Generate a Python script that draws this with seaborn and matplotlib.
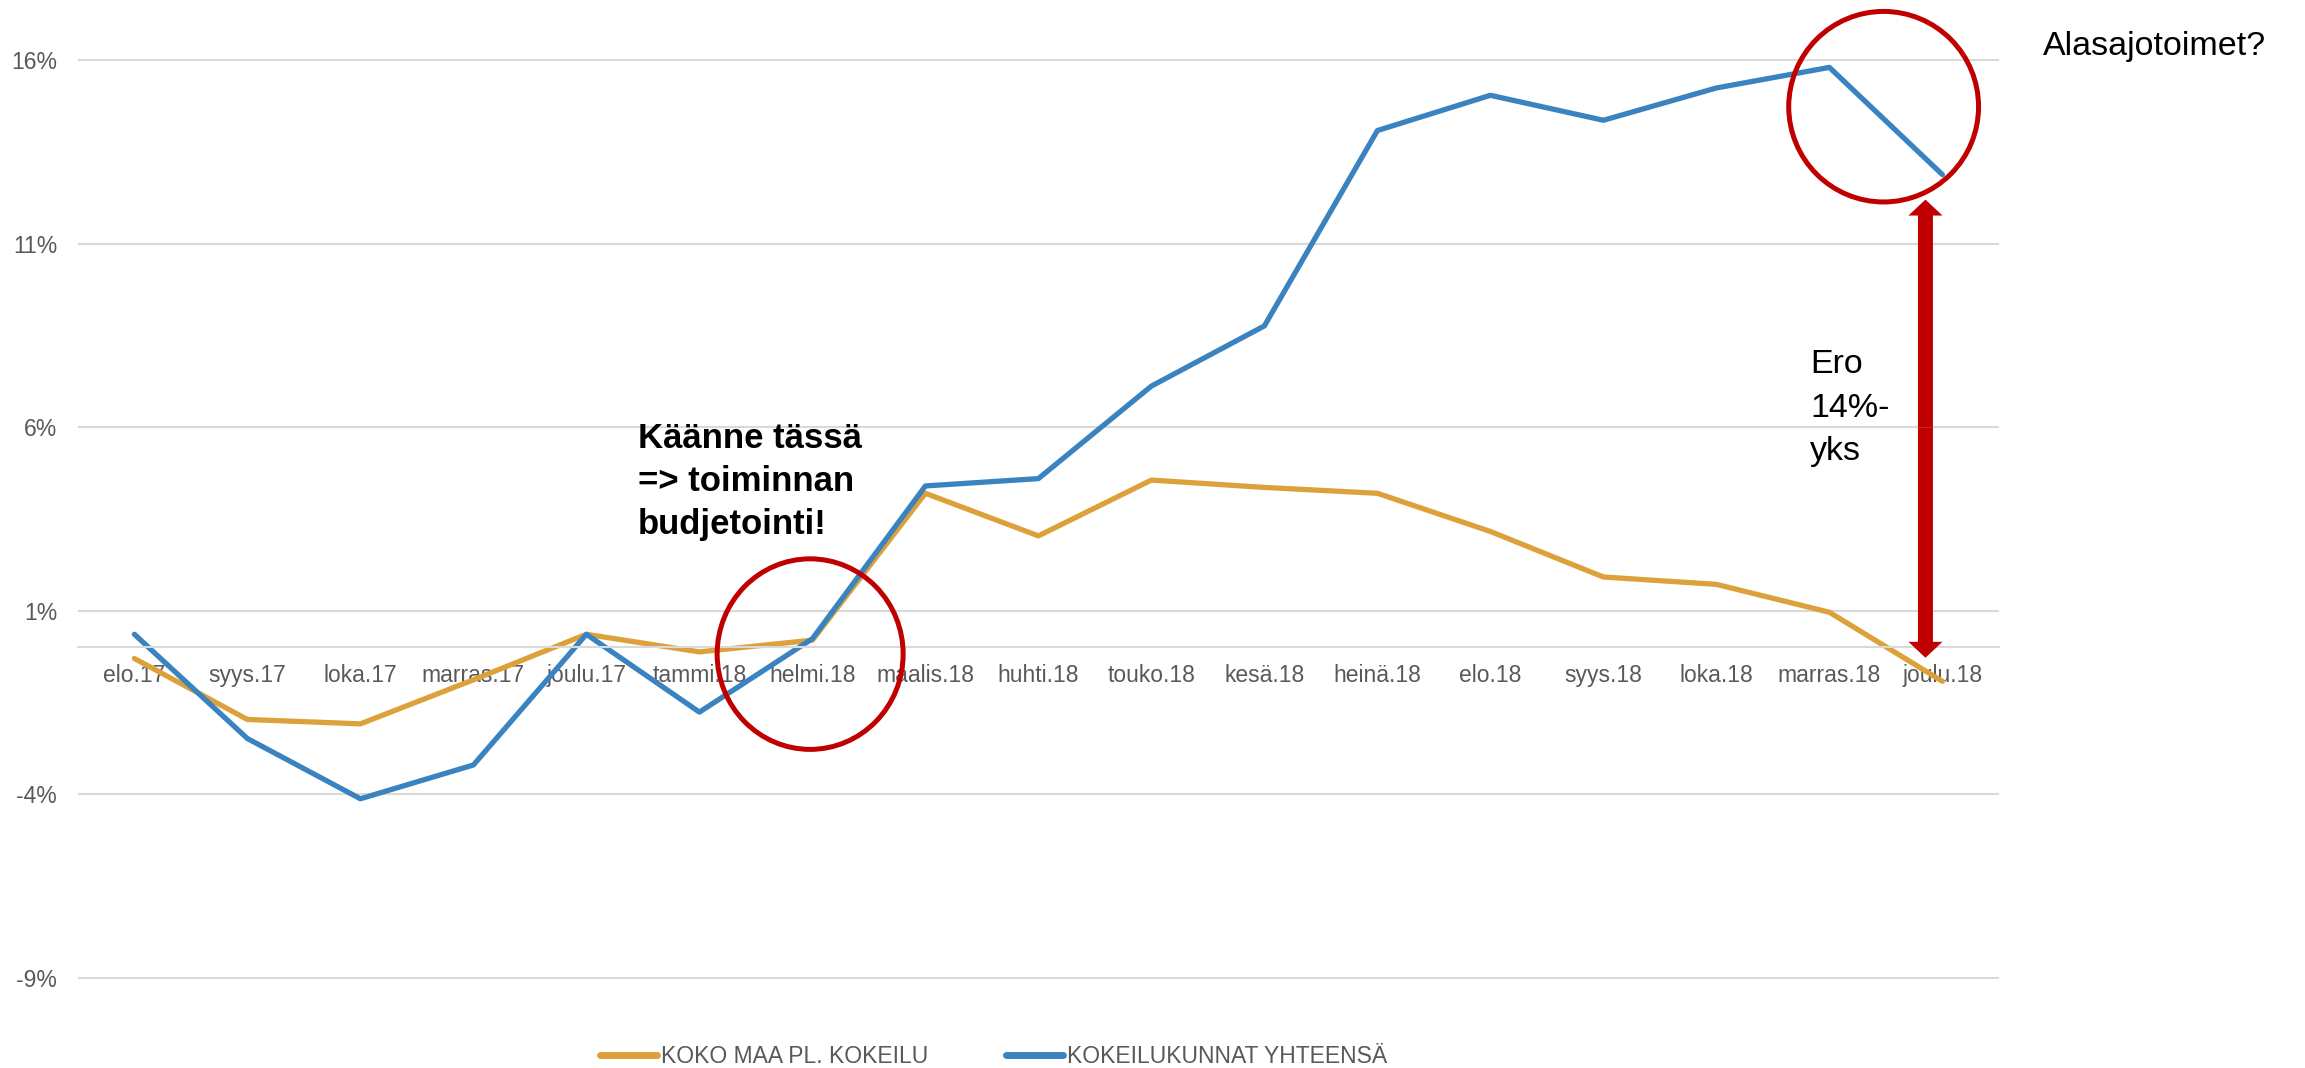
import numpy as np
import pandas as pd
import seaborn as sns
import matplotlib.pyplot as plt
from matplotlib.patches import Ellipse, FancyArrowPatch, ArrowStyle

kuukaudet = ['elo.17', 'syys.17', 'loka.17', 'marras.17', 'joulu.17', 'tammi.18',
             'helmi.18', 'maalis.18', 'huhti.18', 'touko.18', 'kesä.18', 'heinä.18',
             'elo.18', 'syys.18', 'loka.18', 'marras.18', 'joulu.18']
koko_maa = [-0.3, -1.96, -2.08, -0.88, 0.36, -0.12, 0.2, 4.2, 3.04, 4.56,
            4.36, 4.2, 3.16, 1.92, 1.72, 0.96, -0.92]
kokeilukunnat = [0.36, -2.48, -4.12, -3.2, 0.36, -1.76, 0.24, 4.4, 4.6, 7.12,
                 8.76, 14.08, 15.04, 14.36, 15.24, 15.8, 12.88]
sarjat = ['KOKO MAA PL. KOKEILU', 'KOKEILUKUNNAT YHTEENSÄ']
y_ticks = [-9, -4, 1, 6, 11, 16]

df = pd.DataFrame({'kk': kuukaudet, sarjat[0]: koko_maa, sarjat[1]: kokeilukunnat})
df = df.melt(id_vars='kk', var_name='sarja', value_name='muutos')

sns.set_style('white')
plt.rcParams['font.family'] = ['Liberation Sans', 'DejaVu Sans']

GREY = '#595959'
GRID = '#D9D9D9'
RED = '#C00000'

fig = plt.figure(figsize=(23.05, 10.68), dpi=100)
ax = fig.add_axes([0.0338, 0.0833, 0.8334, 0.8615])

sns.lineplot(data=df, x='kk', y='muutos', hue='sarja', hue_order=sarjat,
             palette=['#DCA13A', '#3A83C1'], linewidth=3.8, sort=False, ax=ax)

ax.set_xlim(-0.5, len(kuukaudet) - 0.5)
ax.set_ylim(-9.03, 16.03)
ax.set_yticks(y_ticks)
ax.set_yticklabels([f'{v}%' for v in y_ticks])
ax.set_xticks(range(len(kuukaudet)))
ax.set_xticklabels(kuukaudet)
ax.set_xticks(np.arange(-0.5, len(kuukaudet), 1), minor=True)
ax.set_xlabel('')
ax.set_ylabel('')

ax.yaxis.grid(True, color=GRID, linewidth=1.5)
ax.set_axisbelow(True)
for s in ['left', 'right', 'top']:
    ax.spines[s].set_visible(False)
ax.spines['bottom'].set_position(('data', 0))
ax.spines['bottom'].set_color(GRID)
ax.spines['bottom'].set_linewidth(1.5)

ax.tick_params(axis='x', which='major', length=0, pad=12, labelsize=16.5, labelcolor=GREY)
ax.tick_params(axis='x', which='minor', length=4.5, width=1.5, color=GRID, direction='out')
ax.tick_params(axis='y', length=0, pad=15, labelsize=16.5, labelcolor=GREY)

# legend below the plot
handles, labels = ax.get_legend_handles_labels()
ax.get_legend().remove()
for h in handles:
    h.set_linewidth(5)
    h.set_solid_capstyle('round')
fig.legend(handles, labels, loc='center', bbox_to_anchor=(0.431, 0.0103),
           ncol=2, frameon=False, fontsize=16.5, labelcolor=GREY,
           handlelength=2.5, handletextpad=0.15, columnspacing=3.4)

# annotations
ax.add_patch(Ellipse((5.98, -0.18), 1.646, 5.19, fill=False, edgecolor=RED,
                     linewidth=3.6, clip_on=False, zorder=5))
ax.add_patch(Ellipse((15.48, 14.73), 1.68, 5.19, fill=False, edgecolor=RED,
                     linewidth=3.6, clip_on=False, zorder=5))

nuoli = ArrowStyle('Simple', head_length=1.15, head_width=2.45, tail_width=1.08)
for loppu in (12.2, -0.28):
    ax.add_patch(FancyArrowPatch((15.85, 6.0), (15.85, loppu), arrowstyle=nuoli,
                                 mutation_scale=10, shrinkA=0, shrinkB=0,
                                 color=RED, linewidth=0, clip_on=False, zorder=6))

# va='baseline' anchors the last line of a multi-line text
ax.text(4.456, 3.08, 'Käänne tässä\n=> toiminnan\nbudjetointi!', fontsize=25,
        fontweight='bold', color='black', ha='left', va='baseline', linespacing=1.4)
ax.text(14.83, 5.1, 'Ero\n14%-\nyks', fontsize=24.5, color='black',
        ha='left', va='baseline', linespacing=1.52)
fig.text(0.8863, 0.9485, 'Alasajotoimet?', fontsize=24.5, color='black',
         ha='left', va='baseline')

fig.savefig('out.png', dpi=100)
